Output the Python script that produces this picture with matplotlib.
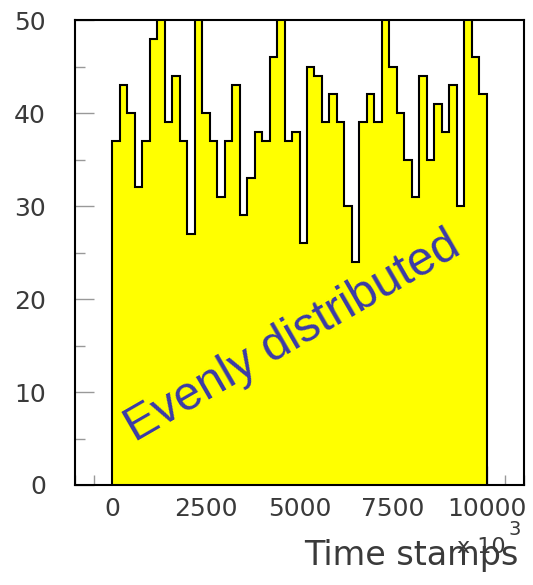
import numpy as np
import matplotlib
matplotlib.use("Agg")
import matplotlib.pyplot as plt
from matplotlib.ticker import MultipleLocator

# bin contents, 50 bins of 200 over 0..10000 (x 10^3 time units)
bin_lo = 0
bin_hi = 10000
counts = [37, 43, 40, 32, 37, 48, 52, 39, 44, 37,
          27, 52, 40, 37, 31, 37, 43, 29, 33, 38,
          37, 46, 52, 37, 38, 26, 45, 44, 39, 42,
          39, 30, 24, 39, 42, 39, 52, 45, 40, 35,
          31, 44, 35, 41, 38, 43, 30, 52, 46, 42]
edges = np.linspace(bin_lo, bin_hi, len(counts) + 1)

fig = plt.figure(figsize=(5.33, 5.85), dpi=100)
ax = fig.add_axes([75 / 533, 100 / 585, 449 / 533, 465 / 585])

ax.stairs(counts, edges, fill=True, facecolor="#ffff00",
          edgecolor="black", linewidth=1.5, zorder=2)

ax.set_xlim(-1000, 11000)
ax.set_ylim(0, 50)
ax.set_axisbelow(True)

ax.xaxis.set_major_locator(MultipleLocator(2500))
ax.xaxis.set_minor_locator(MultipleLocator(500))
ax.yaxis.set_major_locator(MultipleLocator(10))
ax.yaxis.set_minor_locator(MultipleLocator(5))

ax.tick_params(axis="both", which="both", direction="in", color="#999999",
               labelcolor="#3a3a3a", labelsize=18, width=1.0)
ax.tick_params(axis="both", which="major", length=14)
ax.tick_params(axis="both", which="minor", length=7)
ax.tick_params(axis="y", which="major", pad=21)
ax.tick_params(axis="x", which="major", pad=9)

for s in ax.spines.values():
    s.set_linewidth(1.5)
    s.set_color("black")
    s.set_zorder(3)

ax.text(0.485, 0.318, "Evenly distributed", transform=ax.transAxes,
        rotation=30, rotation_mode="anchor", ha="center", va="center",
        fontsize=34.5, color="#3a3aa8", family="Liberation Sans", zorder=4)

# axis title with the exponent, ROOT style
fig.text(518 / 533, 20 / 585, "Time stamps", ha="right", va="baseline",
         fontsize=24, color="#3a3a3a")
fig.text(457 / 533, 32 / 585, "x 10", ha="left", va="baseline",
         fontsize=16, color="#3a3a3a")
fig.text(509 / 533, 50 / 585, "3", ha="left", va="baseline",
         fontsize=14, color="#3a3a3a")

fig.savefig("out.png", dpi=100)
